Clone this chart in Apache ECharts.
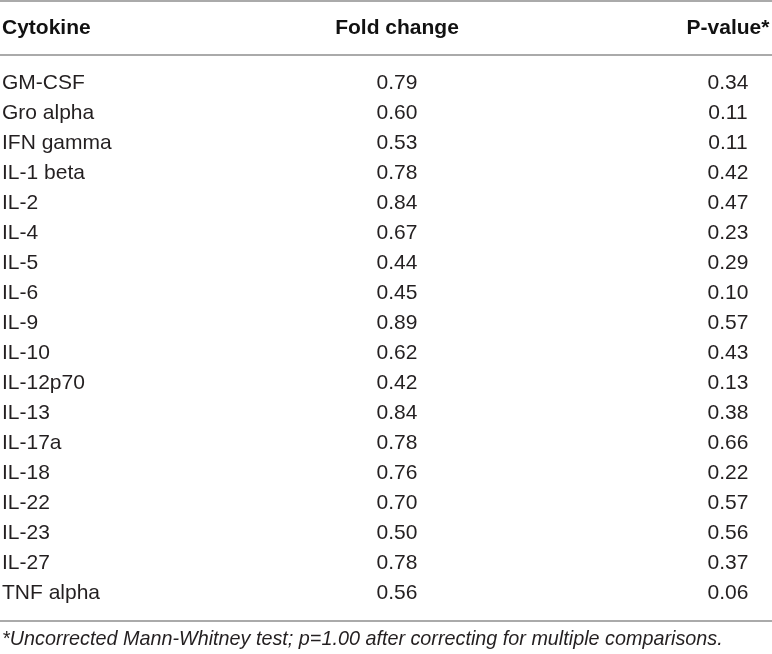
<!DOCTYPE html>
<html>
<head>
<meta charset="utf-8">
<script src="https://cdn.jsdelivr.net/npm/echarts@6/dist/echarts.min.js"></script>
<style>
  html, body { margin: 0; padding: 0; background: #fff; }
  #chart { width: 772px; height: 654px; }
</style>
</head>
<body>
<div id="chart"></div>
<script>
// table content
const headers = ['Cytokine', 'Fold change', 'P-value*'];
const cytokines = [
  'GM-CSF', 'Gro alpha', 'IFN gamma', 'IL-1 beta', 'IL-2', 'IL-4', 'IL-5', 'IL-6', 'IL-9',
  'IL-10', 'IL-12p70', 'IL-13', 'IL-17a', 'IL-18', 'IL-22', 'IL-23', 'IL-27', 'TNF alpha'
];
const foldChange = [0.79, 0.60, 0.53, 0.78, 0.84, 0.67, 0.44, 0.45, 0.89, 0.62, 0.42, 0.84, 0.78, 0.76, 0.70, 0.50, 0.78, 0.56];
const pValues = [0.34, 0.11, 0.11, 0.42, 0.47, 0.23, 0.29, 0.10, 0.57, 0.43, 0.13, 0.38, 0.66, 0.22, 0.57, 0.56, 0.37, 0.06];
const footnote = '*Uncorrected Mann-Whitney test; p=1.00 after correcting for multiple comparisons.';

// layout: column anchors on a 0..772 x axis, rows of 30px
const W = 772;
const colX = [2, 397, 728];
const colAlign = ['left', 'center', 'center'];
const rowTop = 68, rowH = 30;
const ruleColor = '#8e8e8e';
const textColor = '#231f20';
const font = '"Liberation Sans", Arial, Helvetica, sans-serif';

const columns = [
  cytokines,
  foldChange.map(v => v.toFixed(2)),
  pValues.map(v => v.toFixed(2))
];

// one datum per cell: [column, row]
const cells = [];
columns.forEach((col, c) => col.forEach((_, r) => cells.push([colX[c], r, c])));

const chart = echarts.init(document.getElementById('chart'), null, { renderer: 'canvas' });

const hline = (y) => ({
  type: 'line',
  shape: { x1: 0, y1: y, x2: W, y2: y },
  style: { stroke: ruleColor, lineWidth: 1.5 },
  silent: true
});

chart.setOption({
  animation: false,
  backgroundColor: '#fff',
  grid: { left: 0, right: 0, top: rowTop, height: rowH * cytokines.length },
  xAxis: { type: 'value', min: 0, max: W, show: false },
  yAxis: { type: 'category', data: cytokines, inverse: true, show: false },
  series: [{
    type: 'custom',
    data: cells,
    encode: { x: 0, y: 1 },
    renderItem: (params, api) => {
      const c = api.value(2);
      const r = api.value(1);
      const p = api.coord([api.value(0), r]);
      return {
        type: 'text',
        x: p[0],
        y: p[1],
        style: {
          text: columns[c][r],
          textAlign: colAlign[c],
          textVerticalAlign: 'middle',
          fill: textColor,
          font: '21px ' + font
        }
      };
    }
  }],
  graphic: [
    hline(1),
    hline(55),
    hline(621),
    ...headers.map((h, c) => ({
      type: 'text',
      x: colX[c],
      y: 28,
      style: {
        text: h,
        textAlign: colAlign[c],
        textVerticalAlign: 'middle',
        fill: '#111',
        font: 'bold 21px ' + font
      }
    })),
    {
      type: 'text',
      x: 2,
      y: 639,
      style: {
        text: footnote,
        textVerticalAlign: 'middle',
        fill: textColor,
        font: 'italic 19.8px ' + font
      }
    }
  ]
});
</script>
</body>
</html>
